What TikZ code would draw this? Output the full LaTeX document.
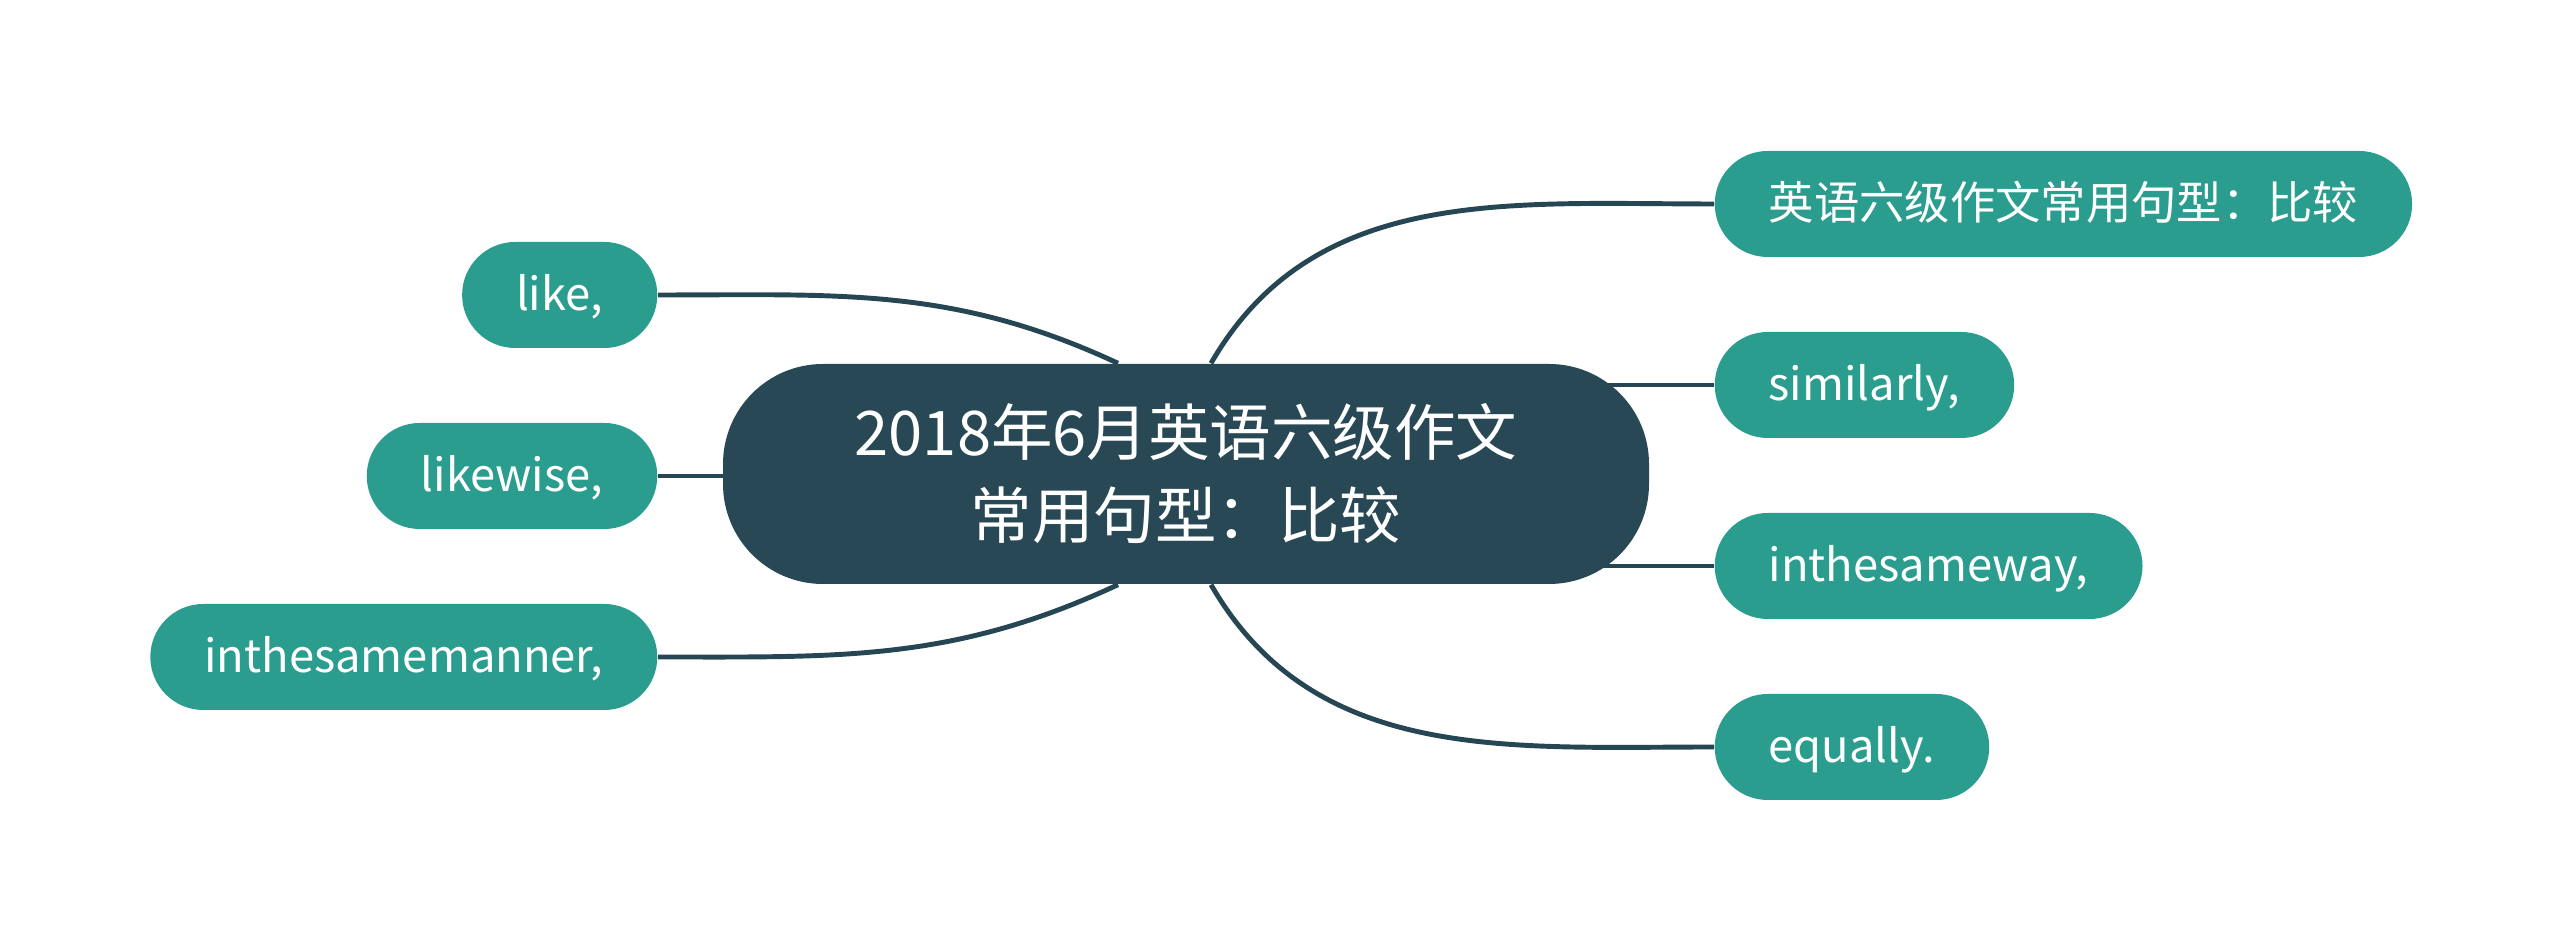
\documentclass[tikz,border=0pt]{standalone}
\usepackage{fontspec}
\usepackage{xcolor}
\setmainfont{Noto Sans CJK SC}
\usetikzlibrary{calc,backgrounds}

\definecolor{rootfill}{RGB}{39,72,84}
\definecolor{leaffill}{RGB}{42,157,143}
\definecolor{linkcol}{RGB}{38,70,83}

\begin{document}
\begin{tikzpicture} [scale=1]
  \tikzstyle{root}=[fill=rootfill,draw=none,text=white,rounded corners=1cm,minimum width=9.26cm,minimum height=2.2cm,align=center,font=\fontsize{17.5}{23.6}\selectfont]
  \tikzstyle{leaf}=[fill=leaffill,draw=none,text=white,rounded corners=0.53cm,minimum height=1.06cm,inner xsep=0.54cm,inner ysep=0pt,text height=0.9em,text depth=0em,font=\fontsize{12.9}{16}\selectfont]
  \tikzstyle{link}=[draw=linkcol,line width=1.4pt]

  \useasboundingbox (0,0) rectangle (25.6,-9.51);

  \node[root]              (root) at (11.86,-4.74) {2018年6月英语六级作文\\常用句型：比较};
  \node[leaf,anchor=west]  (r1)   at (17.14,-2.04) {英语六级作文常用句型：比较};
  \node[leaf,anchor=west]  (r2)   at (17.14,-3.85) {similarly,};
  \node[leaf,anchor=west]  (r3)   at (17.14,-5.66) {inthesameway,};
  \node[leaf,anchor=west]  (r4)   at (17.14,-7.47) {equally.};
  \node[leaf,anchor=east]  (l1)   at (6.58,-2.95)  {like,};
  \node[leaf,anchor=east]  (l2)   at (6.58,-4.76)  {likewise,};
  \node[leaf,anchor=east]  (l3)   at (6.58,-6.57)  {inthesamemanner,};

  \begin{scope}[on background layer]
  \path[link] ($(root.north)+(0.25,0)$)  edge [out=60,in=180]   (r1.west)
              (root.center |- r2.west)   edge                   (r2.west)
              (root.center |- r3.west)   edge                   (r3.west)
              ($(root.south)+(0.25,0)$)  edge [out=-60,in=180]  (r4.west)
              ($(root.north)+(-0.68,0)$) edge [out=155,in=0]    (l1.east)
              (root.center |- l2.east)   edge                   (l2.east)
              ($(root.south)+(-0.68,0)$) edge [out=-155,in=0]   (l3.east);
  \end{scope}

\end{tikzpicture}
\end{document}
